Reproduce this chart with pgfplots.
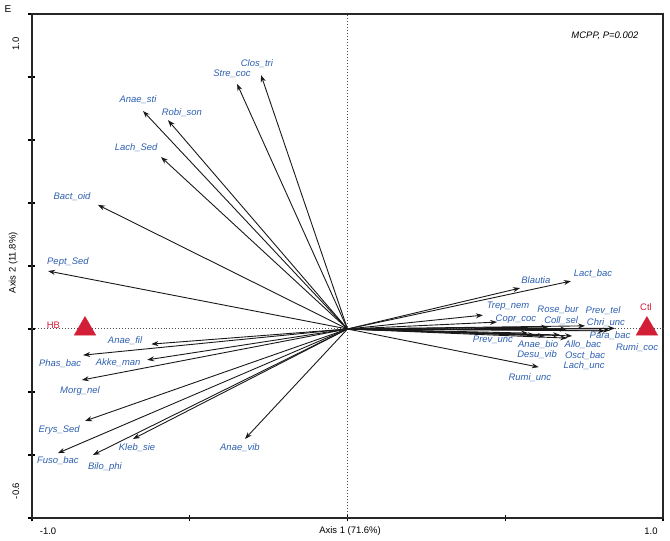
\documentclass[border=0pt]{standalone}
\usepackage{pgfplots}
\pgfplotsset{compat=1.18}
\usepackage{pgfplotstable}
\usepackage{fontspec}
\setmainfont{Liberation Sans}
\usetikzlibrary{arrows.meta}
\definecolor{lblue}{RGB}{45,95,175}
\definecolor{tred}{RGB}{210,30,55}

% arrow tips (biplot loadings)
\pgfplotstableread{
x y
-0.274 0.806
-0.350 0.778
-0.648 0.692
-0.569 0.663
-0.591 0.546
-0.791 0.394
-0.949 0.184
-0.622 -0.048
-0.838 -0.083
-0.635 -0.098
-0.842 -0.162
-0.832 -0.292
-0.680 -0.349
-0.918 -0.394
-0.807 -0.400
-0.325 -0.349
0.708 0.152
0.547 0.130
0.429 0.044
0.474 0.022
0.636 0.006
0.696 0.000
0.753 0.010
0.848 0.002
0.816 -0.006
0.832 -0.004
0.572 -0.013
0.626 -0.022
0.594 -0.019
0.696 -0.029
0.674 -0.019
0.712 -0.022
0.606 -0.121
}\arrowtab

\pgfplotstableread{
x y
-0.832 0
0.949 0
}\grouptab

\newcommand\lf{\fontsize{9.5}{11}\selectfont\itshape}
\tikzset{lab/.style={font=\lf, text=lblue, inner sep=0pt}}

\begin{document}
\begin{tikzpicture}
\begin{axis}[
  width=631bp, height=504bp, scale only axis,
  xmin=-1, xmax=1, ymin=-0.6, ymax=1.0,
  xtick={-1,-0.5,0,0.5,1},
  ytick={-0.6,-0.4,-0.2,0,0.2,0.4,0.6,0.8,1.0},
  xticklabels={}, yticklabels={},
  tick pos=left,
  tick align=center, major tick length=7bp,
  axis line style={line width=1.5pt, black!85},
  tick style={line width=1.2pt, black},
  clip=false,
]
\draw[dotted, black!70, line width=1pt] (axis cs:-1,0) -- (axis cs:1,0);
\draw[dotted, black!70, line width=1pt] (axis cs:0,-0.6) -- (axis cs:0,1);

\addplot[black!90, line width=0.9pt, -{Stealth[length=7bp,width=5bp]},
  quiver={u=\thisrow{x}, v=\thisrow{y}}] table[x expr=0, y expr=0] {\arrowtab};

\addplot[only marks, mark=triangle*, mark size=12.5bp, tred, mark options={fill=tred, draw=tred}] table {\grouptab};

% labels
\node[lab] at (axis cs:-0.287,0.841) {Clos\_tri};
\node[lab] at (axis cs:-0.366,0.810) {Stre\_coc};
\node[lab] at (axis cs:-0.664,0.727) {Anae\_sti};
\node[lab] at (axis cs:-0.525,0.686) {Robi\_son};
\node[lab] at (axis cs:-0.670,0.575) {Lach\_Sed};
\node[lab] at (axis cs:-0.873,0.419) {Bact\_oid};
\node[lab] at (axis cs:-0.886,0.213) {Pept\_Sed};
\node[lab] at (axis cs:-0.705,-0.038) {Anae\_fil};
\node[lab] at (axis cs:-0.911,-0.111) {Phas\_bac};
\node[lab] at (axis cs:-0.727,-0.108) {Akke\_man};
\node[lab] at (axis cs:-0.848,-0.197) {Morg\_nel};
\node[lab] at (axis cs:-0.914,-0.321) {Erys\_Sed};
\node[lab] at (axis cs:-0.667,-0.378) {Kleb\_sie};
\node[lab] at (axis cs:-0.918,-0.419) {Fuso\_bac};
\node[lab] at (axis cs:-0.769,-0.438) {Bilo\_phi};
\node[lab] at (axis cs:-0.341,-0.378) {Anae\_vib};
\node[lab] at (axis cs:0.778,0.175) {Lact\_bac};
\node[lab] at (axis cs:0.597,0.156) {Blautia};
\node[lab] at (axis cs:0.509,0.073) {Trep\_nem};
\node[lab] at (axis cs:0.534,0.032) {Copr\_coc};
\node[lab] at (axis cs:0.667,0.063) {Rose\_bur};
\node[lab] at (axis cs:0.677,0.025) {Coll\_sel};
\node[lab] at (axis cs:0.810,0.057) {Prev\_tel};
\node[lab] at (axis cs:0.819,0.019) {Chri\_unc};
\node[lab] at (axis cs:0.832,-0.022) {Para\_bac};
\node[lab] at (axis cs:0.918,-0.060) {Rumi\_coc};
\node[lab] at (axis cs:0.461,-0.035) {Prev\_unc};
\node[lab] at (axis cs:0.604,-0.051) {Anae\_bio};
\node[lab] at (axis cs:0.601,-0.083) {Desu\_vib};
\node[lab] at (axis cs:0.746,-0.051) {Allo\_bac};
\node[lab] at (axis cs:0.753,-0.086) {Osct\_bac};
\node[lab] at (axis cs:0.750,-0.117) {Lach\_unc};
\node[lab] at (axis cs:0.578,-0.156) {Rumi\_unc};

\node[font=\fontsize{9.5}{11}\selectfont, text=tred, inner sep=0pt] at (axis cs:-0.932,0.013) {HB};
\node[font=\fontsize{9.5}{11}\selectfont, text=tred, inner sep=0pt] at (axis cs:0.946,0.070) {Ctl};

\node[font=\fontsize{9.5}{11}\selectfont\itshape, inner sep=0pt] at (axis cs:0.816,0.930) {MCPP, P=0.002};

% outer texts
\node[font=\fontsize{10}{11}\selectfont, inner sep=0pt] at (axis cs:-1.076,1.016) {E};
\node[font=\fontsize{9.5}{11}\selectfont, inner sep=0pt, rotate=90] at (axis cs:-1.051,0.905) {1.0};
\node[font=\fontsize{9.5}{11}\selectfont, inner sep=0pt, rotate=90] at (axis cs:-1.051,-0.514) {-0.6};
\node[font=\fontsize{9.5}{11}\selectfont, inner sep=0pt, rotate=90] at (axis cs:-1.060,0.21) {Axis 2 (11.8\%)};
\node[font=\fontsize{9.5}{11}\selectfont, inner sep=0pt] at (axis cs:-0.949,-0.641) {-1.0};
\node[font=\fontsize{9.5}{11}\selectfont, inner sep=0pt] at (axis cs:0.008,-0.641) {Axis 1 (71.6\%)};
\node[font=\fontsize{9.5}{11}\selectfont, inner sep=0pt] at (axis cs:0.962,-0.641) {1.0};
\end{axis}
\pgfresetboundingbox
\path ([shift={(-32bp,-23bp)}]current axis.south west) rectangle ([shift={(7bp,14bp)}]current axis.north east);
\end{tikzpicture}
\end{document}
